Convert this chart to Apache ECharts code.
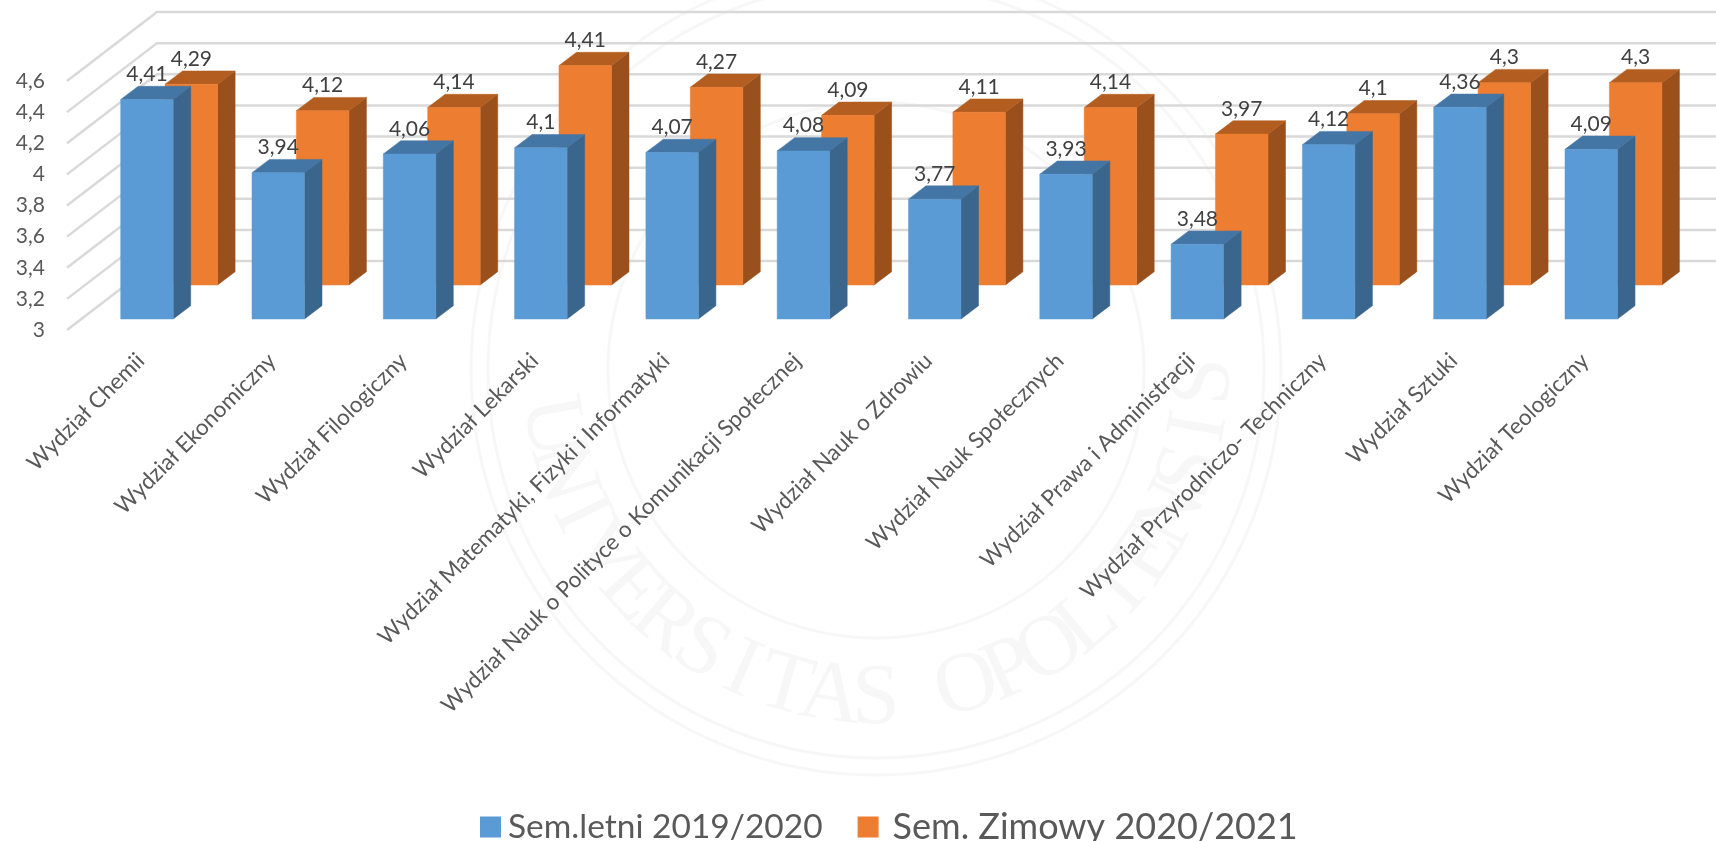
<!DOCTYPE html>
<html><head><meta charset="utf-8">
<style>html,body{margin:0;padding:0;background:#fff}#c{width:1716px;height:841px}</style>
<script src="https://cdn.jsdelivr.net/npm/echarts@6/dist/echarts.min.js"></script>
</head><body><div id="c"></div>
<script>
const categories = ["Wydział Chemii","Wydział Ekonomiczny","Wydział Filologiczny","Wydział Lekarski","Wydział Matematyki, Fizyki i Informatyki","Wydział Nauk o Polityce o Komunikacji Społecznej","Wydział Nauk o Zdrowiu","Wydział Nauk Społecznych","Wydział Prawa i Administracji","Wydział Przyrodniczo- Techniczny","Wydział Sztuki","Wydział Teologiczny"];
const summer2020 = [4.41,3.94,4.06,4.1,4.07,4.08,3.77,3.93,3.48,4.12,4.36,4.09];
const winter2021 = [4.29,4.12,4.14,4.41,4.27,4.09,4.11,4.14,3.97,4.1,4.3,4.3];
const yTicks = [3,3.2,3.4,3.6,3.8,4,4.2,4.4,4.6];
const seriesNames = ["Sem.letni 2019/2020","Sem. Zimowy 2020/2021"];
const sealText = "UNIVERSITAS OPOLIENSIS";

const comma = v => String(v).replace('.', ',');
const FONT = 'Lato';
const WALL = [90,-69], BOX = [17.5,-13.3];

function barRenderer(shift, front, side, top){
  return function(params, api){
    const i = api.value(0), v = api.value(1);
    const t = api.coord([i,v]), b = api.coord([i,3]);
    const w = api.size([1,0])[0]*0.4;
    const x0 = t[0]+shift[0]-w/2, x1 = x0+w;
    const yt = t[1]+shift[1], yb = b[1]+shift[1];
    const dx = BOX[0], dy = BOX[1];
    const poly = (pts,fill,z2)=>({type:'polygon',z2,shape:{points:pts},style:{fill,stroke:fill,lineWidth:.5}});
    return {type:'group',silent:true,children:[
      poly([[x1,yt],[x1+dx,yt+dy],[x1+dx,yb+dy],[x1,yb]],side,1),
      poly([[x0,yt],[x0+dx,yt+dy],[x1+dx,yt+dy],[x1,yt]],top,2),
      poly([[x0,yt],[x1,yt],[x1,yb],[x0,yb]],front,3),
      {type:'text',z2:5,x:x0+w/2,y:yt+dy-12,style:{text:comma(v),fill:'#404040',font:'21px '+FONT,align:'center',verticalAlign:'middle'}}
    ]};
  };
}
function wallRenderer(params, api){
  const y = api.coord([0,api.value(1)])[1];
  const x = params.coordSys.x;
  return {type:'polyline',silent:true,shape:{points:[[x,y],[x+WALL[0],y+WALL[1]],[1716,y+WALL[1]]]},style:{fill:'none',stroke:'#D9D9D9',lineWidth:2.5}};
}

// faint seal in the background
const cx=876, cy=370, R=330, inkSeal='#f7f7f7';
const seal = [405,388,268].map(r=>({type:'circle',z:-10,silent:true,shape:{cx,cy,r},style:{fill:'none',stroke:inkSeal,lineWidth:3}}));
[...sealText].forEach((ch,k)=>{
  const th=(k-10)*8*Math.PI/180;
  seal.push({type:'text',z:-10,silent:true,x:cx+R*Math.sin(th),y:cy+R*Math.cos(th),rotation:th,
    style:{text:ch,fill:inkSeal,font:'86px "Liberation Serif"',align:'center',verticalAlign:'middle'}});
});

const chart = echarts.init(document.getElementById('c'),null,{renderer:'canvas'});
chart.setOption({
  animation:false,
  backgroundColor:'#fff',
  graphic:{elements:seal},
  grid:{left:67,top:81,width:1575.6,height:249,containLabel:false},
  legend:{data:[
      {name:seriesNames[0],textStyle:{fontSize:33.5}},
      {name:seriesNames[1],textStyle:{fontSize:36,padding:[0,0,0,9]}}],
    left:475,top:804,itemWidth:21,itemHeight:21,itemGap:35,icon:'rect',
    textStyle:{fontFamily:FONT,fontSize:34,color:'#595959',padding:[0,0,0,2]}},
  xAxis:{type:'category',data:categories,axisLine:{show:false},axisTick:{show:false},splitLine:{show:false},
    axisLabel:{interval:0,rotate:45,margin:19,fontFamily:FONT,fontSize:22.5,lineHeight:23,verticalAlign:'top',color:'#595959'}},
  yAxis:{type:'value',min:3,max:4.6,interval:0.2,axisLine:{show:false},axisTick:{show:false},splitLine:{show:false},
    axisLabel:{margin:22,fontFamily:FONT,fontSize:21,color:'#595959',formatter:v=>comma(+v.toFixed(1))}},
  series:[
    {type:'custom',name:'walls',z:1,data:yTicks.map(v=>[0,v]),renderItem:wallRenderer,encode:{x:0,y:1}},
    {type:'custom',name:seriesNames[1],z:2,itemStyle:{color:'#ED7D31'},data:winter2021.map((v,i)=>[i,v]),encode:{x:0,y:1},
      renderItem:barRenderer([58.7,-45],'#ED7D31','#99501C','#B35E20')},
    {type:'custom',name:seriesNames[0],z:3,itemStyle:{color:'#5B9BD5'},data:summer2020.map((v,i)=>[i,v]),encode:{x:0,y:1},
      renderItem:barRenderer([14.3,-11],'#5B9BD5','#3A658C','#4476A5')}
  ]
});
</script></body></html>
